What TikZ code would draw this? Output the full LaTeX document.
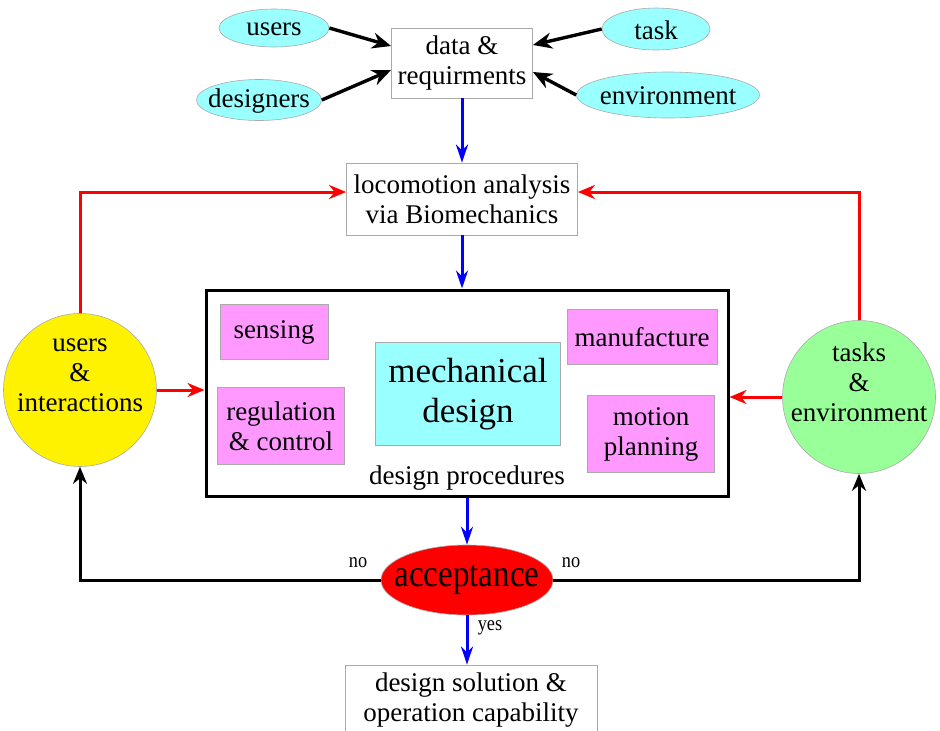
\documentclass[tikz,border=0pt]{standalone}
\usepackage{fontspec}
\usepackage{graphicx}
\setmainfont{Liberation Serif}
\usetikzlibrary{shapes.geometric,arrows.meta,calc}
\definecolor{lcyan}{RGB}{153,255,255}
\definecolor{lpink}{RGB}{255,153,255}
\definecolor{lgreen}{RGB}{153,255,153}
\definecolor{bordergray}{RGB}{170,170,170}
\tikzset{
  txt/.style={font=\fontsize{27}{30}\selectfont, align=center},
  oval/.style={ellipse, draw=bordergray, line width=0.6pt, fill=lcyan, inner sep=0pt},
  plainbox/.style={rectangle, draw=bordergray, line width=0.8pt, fill=white, inner sep=0pt, txt},
  pinkbox/.style={rectangle, draw=bordergray, line width=0.6pt, fill=lpink, inner sep=0pt, txt},
  bigcirc/.style={circle, draw=bordergray, line width=0.6pt, minimum size=153pt, inner sep=0pt},
  blk/.style={draw=black, line width=3.4pt, -{Stealth[length=19pt,width=16pt]}},
  blkfb/.style={draw=black, line width=3pt, -{Stealth[length=17pt,width=14pt]}},
  redarr/.style={draw=red, line width=3pt, -{Stealth[length=17pt,width=14pt]}},
  bluearr/.style={draw=blue, line width=3pt, -{Stealth[length=18pt,width=12pt]}},
  small/.style={font=\fontsize{21}{23}\selectfont}
}
\begin{document}
\begin{tikzpicture}[x=1pt,y=-1pt]
\useasboundingbox (0,0) rectangle (940,731);
% top ellipses
\node[oval, minimum width=110pt, minimum height=38pt] (users) at (274,28) {};
\node[txt] (usersl) at (274,29) {users};
\node[oval, minimum width=125pt, minimum height=41pt] (designers) at (259,100) {};
\node[txt] (designersl) at (259,101) {designers};
\node[oval, minimum width=108pt, minimum height=42pt] (task) at (656,29) {};
\node[txt] (taskl) at (656,30) {task};
\node[oval, minimum width=183pt, minimum height=46pt] (environ) at (668,95) {};
\node[txt] (environl) at (668,96) {environment};
% boxes
\node[plainbox, minimum width=141pt, minimum height=70pt] (data) at (462,63) {data \&\\requirments};
\node[plainbox, minimum width=231pt, minimum height=72pt] (loco) at (462,199) {locomotion analysis\\via Biomechanics};
\node[rectangle, draw=black, line width=3pt, minimum width=522pt, minimum height=206pt] (big) at (467,393) {};
\node[pinkbox, minimum width=108pt, minimum height=55pt] (sensing) at (274,332) {sensing};
\node[pinkbox, minimum width=127pt, minimum height=77pt] (regctl) at (281,426) {regulation\\\& control};
\node[pinkbox, minimum width=150pt, minimum height=55pt] (manuf) at (642,337) {manufacture};
\node[pinkbox, minimum width=127pt, minimum height=77pt] (motion) at (651,434) {motion\\planning};
\node[rectangle, draw=bordergray, line width=0.6pt, fill=lcyan, inner sep=0pt, minimum width=185pt, minimum height=103pt, align=center, font=\fontsize{35}{40}\selectfont] (mech) at (468,394) {mechanical\\design};
\node[txt] (proc) at (467,478) {design procedures};
% circles
\node[bigcirc, fill=yellow] (userint) at (80,390) {};
\node[txt] (userinttxt) at (80,375) {users\\\&\\interactions};
\node[bigcirc, fill=lgreen] (tasksenv) at (859,397) {};
\node[txt] (tasksenvtxt) at (859,382) {tasks\\\&\\environment};
% acceptance
\node[ellipse, draw=bordergray, line width=0.6pt, fill=red, inner sep=0pt, minimum width=172pt, minimum height=70pt] (accept) at (467,580) {};
\node[font=\fontsize{38}{40}\selectfont] (acceptl) at (467,580) {\scalebox{0.87}[1]{acceptance}};
\node[plainbox, minimum width=252pt, minimum height=72pt] (sol) at (471,701) {};
\node[txt] (soltxt) at (471,700) {design solution \&\\operation capability};
% labels
\node[small] (no1) at (358,563) {\scalebox{0.87}[1]{no}};
\node[small] (no2) at (571,563) {\scalebox{0.87}[1]{no}};
\node[small] (yes) at (490,628) {\scalebox{0.87}[1]{yes}};
% connectors top
\draw[blk] (users.east) -- ([yshift=17pt]data.west);
\draw[blk] (designers.east) -- ([yshift=-7pt]data.west);
\draw[blk] (task.west) -- ([yshift=18pt]data.east);
\draw[blk] (environ.west) -- ([yshift=-9pt]data.east);
% blue
\draw[bluearr] (data.south) -- (loco.north);
\draw[bluearr] (loco.south) -- (loco.south |- big.north);
\draw[bluearr] (big.south) -- (accept.north);
\draw[bluearr] (accept.south) -- (accept.south |- sol.north);
% red feedback
\draw[redarr] (userint.north) |- ([yshift=7pt]loco.west);
\draw[redarr] (tasksenv.north) |- ([yshift=7pt]loco.east);
\draw[redarr] (userint.east) -- (userint.east -| big.west);
\draw[redarr] (tasksenv.west) -- (tasksenv.west -| big.east);
% black feedback
\draw[blkfb] (accept.west) -| (userint.south);
\draw[blkfb] (accept.east) -| (tasksenv.south);
\end{tikzpicture}
\end{document}
